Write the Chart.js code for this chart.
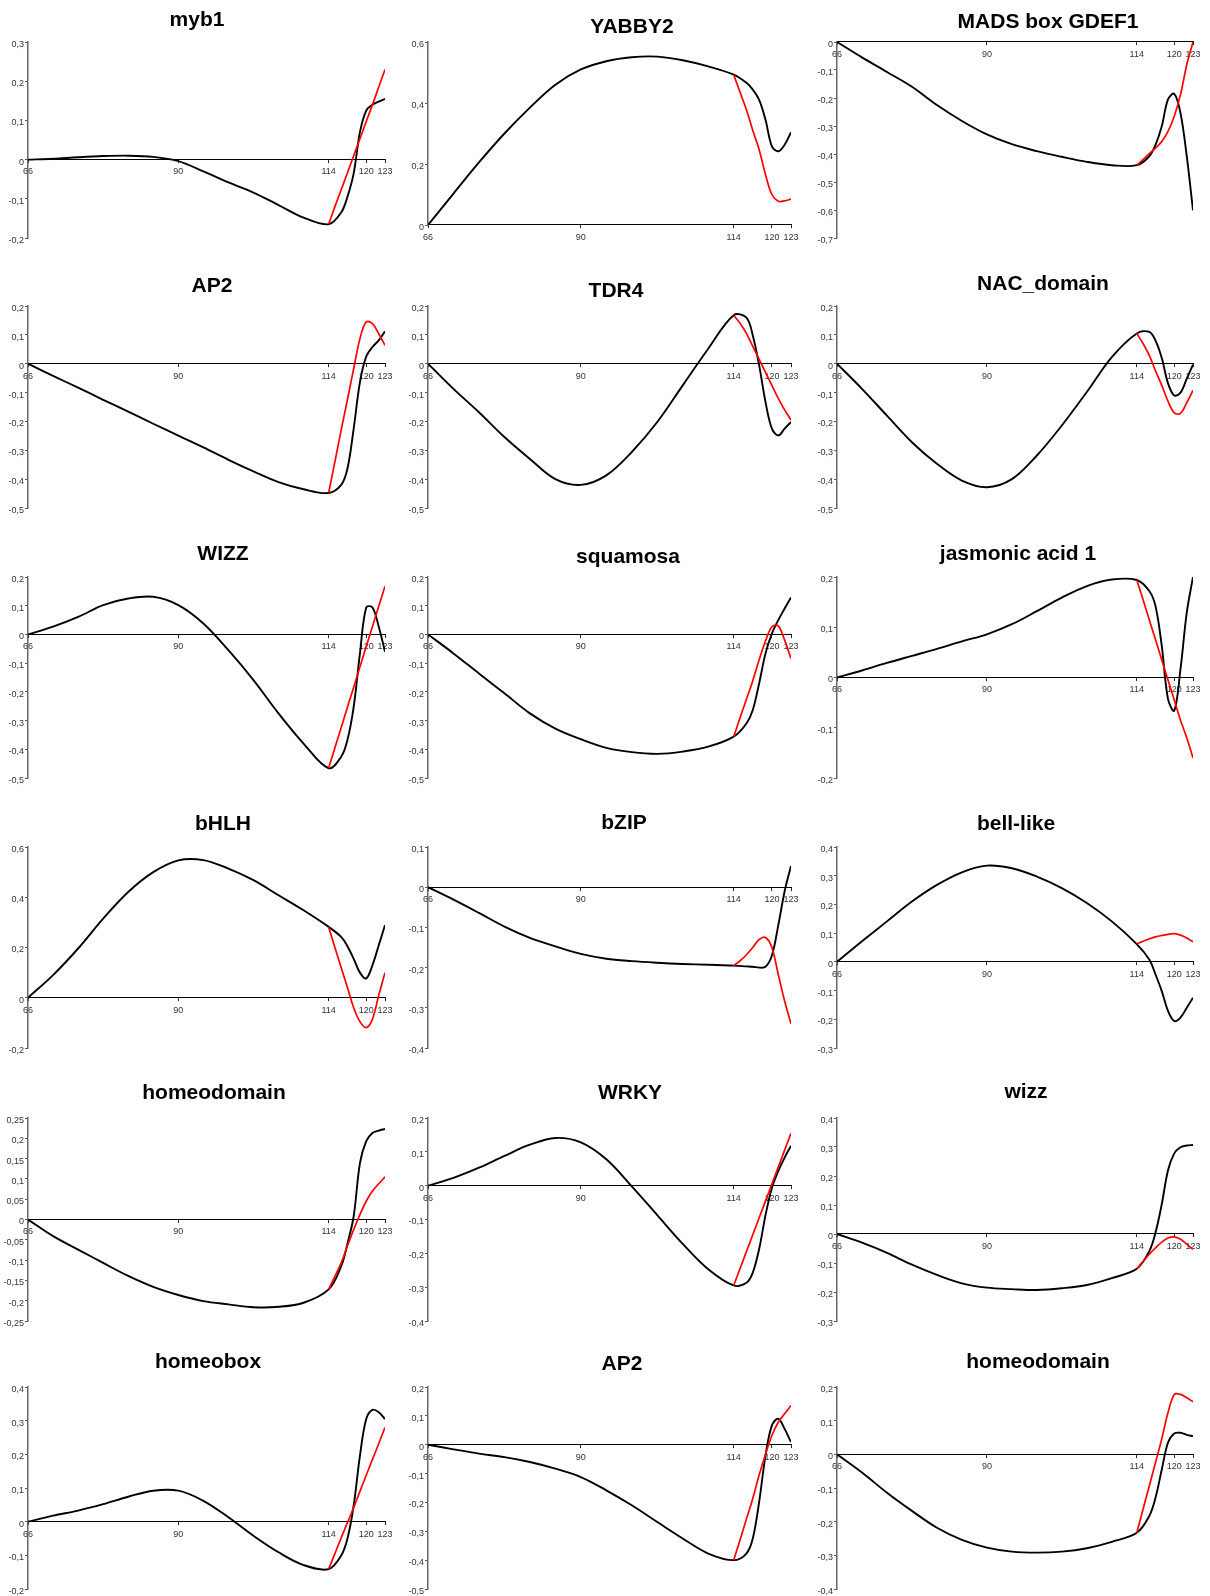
<!DOCTYPE html>
<html>
<head>
<meta charset="utf-8">
<script src="https://cdn.jsdelivr.net/npm/chart.js@4.4.1/dist/chart.umd.min.js"></script>
<style>
html, body { margin: 0; padding: 0; background: #fff; overflow: hidden; width: 1210px; height: 1596px; }
#wrap { position: relative; width: 1210px; height: 1596px; }
canvas { position: absolute; }
</style>
</head>
<body>
<div id="wrap"></div>
<script>
// ---------- DATA ----------
const titles = ["myb1", "YABBY2", "MADS box GDEF1", "AP2", "TDR4", "NAC_domain",
  "WIZZ", "squamosa", "jasmonic acid 1", "bHLH", "bZIP", "bell-like",
  "homeodomain", "WRKY", "wizz", "homeobox", "AP2", "homeodomain"];

const xTicks = [66, 90, 114, 120, 123];
const blackX = [66, 70, 74, 78, 82, 86, 90, 94, 98, 102, 106, 110, 114, 116, 117, 118, 119, 120, 121, 122, 123];
const redX = [114, 115, 116, 117, 118, 119, 120, 121, 122, 123];

const yMin = [-0.2, 0, -0.7, -0.5, -0.5, -0.5, -0.5, -0.5, -0.2, -0.2, -0.4, -0.3, -0.25, -0.4, -0.3, -0.2, -0.5, -0.4];
const yMax = [0.3, 0.6, 0, 0.2, 0.2, 0.2, 0.2, 0.2, 0.2, 0.6, 0.1, 0.4, 0.25, 0.2, 0.4, 0.4, 0.2, 0.2];
const yStep = [0.1, 0.2, 0.1, 0.1, 0.1, 0.1, 0.1, 0.1, 0.1, 0.2, 0.1, 0.1, 0.05, 0.1, 0.1, 0.1, 0.1, 0.1];

const black01 = [0, 0.002, 0.006, 0.009, 0.01, 0.007, -0.004, -0.03, -0.058, -0.084, -0.116, -0.148, -0.165, -0.135, -0.095, -0.035, 0.07, 0.125, 0.14, 0.148, 0.155];
const red01 = [-0.165, -0.12, -0.077, -0.034, 0.01, 0.053, 0.097, 0.14, 0.185, 0.23];

const black02 = [0, 0.103, 0.205, 0.3, 0.385, 0.46, 0.51, 0.537, 0.55, 0.552, 0.54, 0.52, 0.493, 0.466, 0.444, 0.41, 0.345, 0.258, 0.242, 0.263, 0.304];
const red02 = [0.493, 0.435, 0.378, 0.31, 0.247, 0.165, 0.1, 0.078, 0.079, 0.085];

const black03 = [0, -0.055, -0.107, -0.16, -0.225, -0.282, -0.33, -0.365, -0.39, -0.41, -0.428, -0.44, -0.44, -0.408, -0.367, -0.301, -0.205, -0.185, -0.254, -0.408, -0.601];
const red03 = [-0.44, -0.42, -0.399, -0.379, -0.355, -0.319, -0.265, -0.188, -0.081, 0];

const black04 = [0, -0.042, -0.083, -0.125, -0.166, -0.208, -0.249, -0.29, -0.333, -0.373, -0.41, -0.435, -0.448, -0.42, -0.364, -0.225, -0.064, 0.025, 0.058, 0.081, 0.112];
const red04 = [-0.448, -0.34, -0.23, -0.125, -0.017, 0.087, 0.145, 0.139, 0.104, 0.064];

const black05 = [0, -0.087, -0.168, -0.254, -0.33, -0.4, -0.42, -0.387, -0.306, -0.202, -0.075, 0.052, 0.168, 0.16, 0.098, -0.006, -0.133, -0.225, -0.249, -0.225, -0.202];
const red05 = [0.168, 0.14, 0.105, 0.06, 0.015, -0.03, -0.075, -0.12, -0.16, -0.195];

const black06 = [0, -0.087, -0.18, -0.272, -0.347, -0.405, -0.428, -0.4, -0.318, -0.214, -0.098, 0.023, 0.105, 0.11, 0.08, 0.02, -0.068, -0.11, -0.1, -0.052, -0.003];
const red06 = [0.105, 0.07, 0.029, -0.025, -0.075, -0.13, -0.17, -0.172, -0.135, -0.092];

const black07 = [0, 0.027, 0.061, 0.102, 0.125, 0.131, 0.102, 0.038, -0.055, -0.159, -0.275, -0.38, -0.466, -0.426, -0.368, -0.252, -0.066, 0.094, 0.094, 0.027, -0.06];
const red07 = [-0.466, -0.395, -0.325, -0.254, -0.184, -0.113, -0.042, 0.028, 0.098, 0.168];

const black08 = [0, -0.066, -0.136, -0.205, -0.275, -0.328, -0.365, -0.395, -0.41, -0.416, -0.408, -0.391, -0.356, -0.31, -0.263, -0.17, -0.066, 0.003, 0.05, 0.09, 0.129];
const red08 = [-0.356, -0.29, -0.226, -0.161, -0.088, -0.023, 0.027, 0.03, -0.02, -0.084];

const black09 = [0, 0.014, 0.029, 0.043, 0.057, 0.072, 0.086, 0.106, 0.132, 0.159, 0.182, 0.195, 0.194, 0.172, 0.142, 0.063, -0.043, -0.066, 0.017, 0.129, 0.2];
const red09 = [0.194, 0.155, 0.115, 0.075, 0.035, -0.005, -0.045, -0.085, -0.12, -0.16];

const black10 = [0, 0.09, 0.196, 0.315, 0.421, 0.5, 0.547, 0.548, 0.514, 0.468, 0.408, 0.348, 0.282, 0.242, 0.205, 0.155, 0.1, 0.077, 0.13, 0.209, 0.289];
const red10 = [0.282, 0.2, 0.12, 0.041, -0.04, -0.095, -0.119, -0.085, 0.01, 0.1];

const black11 = [0, -0.031, -0.064, -0.098, -0.126, -0.147, -0.166, -0.178, -0.184, -0.188, -0.191, -0.193, -0.195, -0.197, -0.198, -0.2, -0.198, -0.17, -0.095, -0.01, 0.053];
const red11 = [-0.195, -0.183, -0.168, -0.15, -0.13, -0.125, -0.15, -0.217, -0.283, -0.34];

const black12 = [0, 0.072, 0.141, 0.21, 0.268, 0.312, 0.335, 0.326, 0.297, 0.257, 0.205, 0.141, 0.062, 0.008, -0.044, -0.102, -0.171, -0.206, -0.194, -0.16, -0.125];
const red12 = [0.062, 0.072, 0.08, 0.087, 0.092, 0.096, 0.098, 0.093, 0.083, 0.07];

const black13 = [0, -0.041, -0.074, -0.107, -0.139, -0.166, -0.186, -0.201, -0.209, -0.216, -0.215, -0.205, -0.172, -0.115, -0.06, 0.008, 0.139, 0.193, 0.213, 0.219, 0.223];
const red13 = [-0.172, -0.14, -0.107, -0.065, -0.025, 0.012, 0.045, 0.07, 0.088, 0.105];

const black14 = [0, 0.023, 0.053, 0.088, 0.121, 0.141, 0.128, 0.078, -0.002, -0.087, -0.172, -0.247, -0.295, -0.287, -0.257, -0.187, -0.087, -0.007, 0.043, 0.083, 0.118];
const red14 = [-0.295, -0.245, -0.195, -0.145, -0.095, -0.045, 0.005, 0.055, 0.105, 0.155];

const black15 = [0, -0.03, -0.065, -0.106, -0.141, -0.17, -0.185, -0.19, -0.193, -0.187, -0.176, -0.152, -0.12, -0.059, 0.005, 0.103, 0.22, 0.278, 0.299, 0.305, 0.307];
const red15 = [-0.12, -0.095, -0.07, -0.048, -0.028, -0.014, -0.01, -0.018, -0.035, -0.053];

const black16 = [0, 0.018, 0.033, 0.052, 0.074, 0.092, 0.092, 0.062, 0.013, -0.042, -0.091, -0.129, -0.141, -0.101, -0.051, 0.048, 0.196, 0.305, 0.332, 0.325, 0.305];
const red16 = [-0.141, -0.095, -0.048, -0.003, 0.042, 0.09, 0.138, 0.185, 0.232, 0.28];

const black17 = [0, -0.016, -0.031, -0.043, -0.06, -0.083, -0.112, -0.158, -0.21, -0.268, -0.325, -0.377, -0.4, -0.377, -0.325, -0.198, -0.037, 0.067, 0.09, 0.055, 0.009];
const red17 = [-0.4, -0.33, -0.257, -0.186, -0.105, -0.033, 0.032, 0.078, 0.107, 0.136];

const black18 = [0, -0.054, -0.114, -0.168, -0.218, -0.254, -0.277, -0.289, -0.292, -0.289, -0.279, -0.26, -0.233, -0.183, -0.129, -0.045, 0.035, 0.062, 0.064, 0.058, 0.054];
const red18 = [-0.233, -0.163, -0.094, -0.024, 0.046, 0.124, 0.178, 0.178, 0.168, 0.156];

const blackSeries = [black01, black02, black03, black04, black05, black06, black07, black08, black09,
  black10, black11, black12, black13, black14, black15, black16, black17, black18];
const redSeries = [red01, red02, red03, red04, red05, red06, red07, red08, red09,
  red10, red11, red12, red13, red14, red15, red16, red17, red18];

// ---------- LAYOUT (page pixels) ----------
const colAxisX = [28, 428, 837];
const colWidth = [357, 363, 356];
const rowTop = [42, 306, 577, 847, 1118, 1387];
const rowBottom = [238, 508, 778, 1048, 1321, 1589];
const bottomOverride = { 1: 225 };
const titleCenterX = [197, 632, 1048, 212, 616, 1043, 223, 628, 1018, 223, 624, 1016, 214, 630, 1026, 208, 622, 1038];
const titleBaseY = [26, 33, 28, 292, 297, 290, 560, 563, 560, 830, 829, 830, 1099, 1099, 1098, 1368, 1370, 1368];

const PAD_L = 32, PAD_T = 42, PAD_R = 24, PAD_B = 22;
const TICK_FONT = { family: '"Liberation Sans", Arial, sans-serif', size: 9 };

Chart.defaults.font.family = '"Liberation Sans", Arial, sans-serif';
Chart.defaults.font.size = 9;
Chart.defaults.color = '#333';

function fmtY(v) {
  const r = Math.round(v * 100) / 100;
  if (r === 0) return '0';
  return String(r).replace('.', ',');
}

const wrap = document.getElementById('wrap');

titles.forEach((title, i) => {
  const c = i % 3, r = Math.floor(i / 3);
  const top = rowTop[r];
  const bottom = bottomOverride[i] !== undefined ? bottomOverride[i] : rowBottom[r];
  const plotW = colWidth[c];
  const plotH = bottom - top;
  const left = colAxisX[c] - PAD_L;
  const canvasTop = top - PAD_T;
  const w = PAD_L + plotW + PAD_R;
  const h = PAD_T + plotH + PAD_B;

  const cv = document.createElement('canvas');
  cv.width = w; cv.height = h;
  cv.style.left = left + 'px';
  cv.style.top = canvasTop + 'px';
  cv.style.width = w + 'px';
  cv.style.height = h + 'px';
  wrap.appendChild(cv);

  const tx = titleCenterX[i] - left;
  const ty = titleBaseY[i] - canvasTop;

  const titlePlugin = {
    id: 'panelTitle',
    afterDraw(chart) {
      const ctx = chart.ctx;
      ctx.save();
      ctx.font = 'bold 21px "Liberation Sans", Arial, sans-serif';
      ctx.fillStyle = '#000';
      ctx.textAlign = 'center';
      ctx.textBaseline = 'alphabetic';
      ctx.fillText(title, tx, ty);
      ctx.restore();
    }
  };

  new Chart(cv, {
    type: 'line',
    data: {
      datasets: [
        {
          data: redX.map((x, k) => ({ x: x, y: redSeries[i][k] })),
          borderColor: '#ff0000',
          borderWidth: 1.7,
          pointRadius: 0,
          fill: false,
          tension: 0.35
        },
        {
          data: blackX.map((x, k) => ({ x: x, y: blackSeries[i][k] })),
          borderColor: '#000000',
          borderWidth: 1.9,
          pointRadius: 0,
          fill: false,
          tension: 0.35
        }
      ]
    },
    options: {
      responsive: false,
      animation: false,
      events: [],
      layout: { padding: { left: 0, top: PAD_T, right: PAD_R, bottom: PAD_B } },
      plugins: { legend: { display: false }, title: { display: false }, tooltip: { enabled: false } },
      scales: {
        x: {
          type: 'linear',
          position: { y: 0 },
          min: 66,
          max: 123,
          afterBuildTicks: (s) => { s.ticks = xTicks.map(v => ({ value: v })); },
          ticks: {
            autoSkip: false,
            maxRotation: 0,
            padding: 4,
            color: '#333',
            font: TICK_FONT,
            callback: (v) => String(v)
          },
          grid: { display: true, drawOnChartArea: false, drawTicks: true, tickLength: 3, color: '#222' },
          border: { display: true, color: '#000', width: 1.1 }
        },
        y: {
          type: 'linear',
          position: 'left',
          min: yMin[i],
          max: yMax[i],
          afterFit: (s) => { s.width = PAD_L; },
          ticks: {
            stepSize: yStep[i],
            autoSkip: false,
            padding: 1,
            labelOffset: 2.5,
            color: '#333',
            font: TICK_FONT,
            callback: (v) => fmtY(v)
          },
          grid: { display: true, drawOnChartArea: false, drawTicks: true, tickLength: 3, color: '#555' },
          border: { display: true, color: '#666', width: 1.5 }
        }
      }
    },
    plugins: [titlePlugin]
  });
});
</script>
</body>
</html>
